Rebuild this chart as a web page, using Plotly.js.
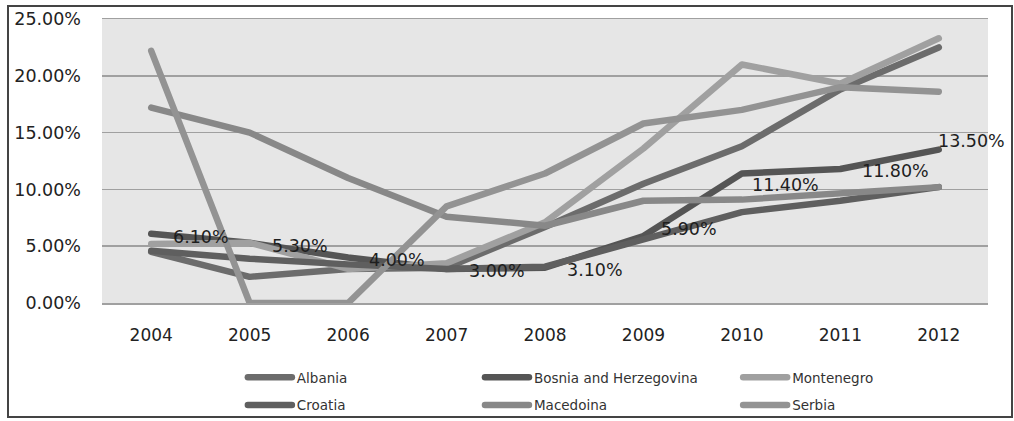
<!DOCTYPE html>
<html>
<head>
<meta charset="utf-8">
<script src="https://cdn.plot.ly/plotly-3.0.1.min.js"></script>
<style>
  html, body { margin: 0; padding: 0; background: #fff; }
  #wrap { position: relative; width: 1014px; height: 421px; }
  #chart { width: 1014px; height: 421px; }
  #frame { position: absolute; left: 7px; top: 5px; width: 1002px; height: 409px;
           border: 2px solid #444; pointer-events: none; }
  .js-line { stroke-linecap: round; stroke-linejoin: round; }
</style>
</head>
<body>
<div id="wrap"><div id="chart"></div><div id="frame"></div></div>
<script>
const years = ['2004','2005','2006','2007','2008','2009','2010','2011','2012'];
const albania    = [4.5, 2.3, 3.0, 3.1, 6.7, 10.5, 13.8, 18.8, 22.5];
const bosnia     = [6.1, 5.3, 4.0, 3.0, 3.1, 5.9, 11.4, 11.8, 13.5];
const montenegro = [5.2, 5.3, 3.0, 3.5, 7.1, 13.6, 21.0, 19.3, 23.3];
const croatia    = [4.6, 3.9, 3.4, 3.0, 3.2, 5.6, 8.0, 9.0, 10.2];
const macedoina  = [17.2, 15.0, 11.0, 7.6, 6.8, 9.0, 9.1, 9.6, 10.2];
const serbia     = [22.2, 0.0, 0.0, 8.5, 11.4, 15.8, 17.0, 19.0, 18.6];
const names  = ['Albania','Bosnia and Herzegovina','Montenegro','Croatia','Macedoina','Serbia'];
const series = [albania, bosnia, montenegro, croatia, macedoina, serbia];
const colors = ['#6c6c6c','#555555','#a0a0a0','#5f5f5f','#888888','#939393'];
const legendIds = ['legend','legend2','legend3','legend','legend2','legend3'];
const bosniaLabels = bosnia.map(v => v.toFixed(2) + '%');
const labelShiftX = [20, 20, 19, 20, 20, 16, 8, 20, -3];
const labelShiftY = [-3, -3, -2, -2, -2, 7, -11, -2, 9];

const traces = series.map((s, i) => ({
  type: 'scatter', mode: 'lines', name: names[i], x: years, y: s,
  legend: legendIds[i], legendgroup: 'g' + i,
  line: { color: colors[i], width: 6.5 }, hoverinfo: 'skip'
}));

const annotations = years.map((yr, i) => ({
  x: i, y: bosnia[i], xref: 'x', yref: 'y', text: bosniaLabels[i],
  showarrow: false, xanchor: 'left', yanchor: 'middle',
  xshift: labelShiftX[i], yshift: labelShiftY[i],
  font: { family: 'DejaVu Sans', size: 17.5, color: '#1e1e1e' }
}));

function legendCol(xpos) {
  return {
    orientation: 'v', x: xpos, xanchor: 'left',
    yref: 'container', y: 0.14, yanchor: 'top',
    itemwidth: 44, tracegroupgap: 7,
    font: { family: 'DejaVu Sans', size: 13.5, color: '#333333' },
    bgcolor: 'rgba(0,0,0,0)', traceorder: 'grouped'
  };
}

const layout = {
  width: 1014, height: 421,
  margin: { l: 102, r: 26, t: 19, b: 118, autoexpand: false },
  paper_bgcolor: '#ffffff', plot_bgcolor: '#e6e6e6',
  showlegend: true,
  legend: legendCol(0.159),
  legend2: legendCol(0.4266),
  legend3: legendCol(0.718),
  xaxis: {
    type: 'category', range: [-0.5, 8.5], showgrid: false, zeroline: false,
    showline: true, mirror: true, linecolor: '#a0a0a0', linewidth: 1.5,
    ticks: '', ticklabelstandoff: 16,
    tickfont: { family: 'DejaVu Sans', size: 17, color: '#222' }
  },
  yaxis: {
    range: [0, 25], tickvals: [0, 5, 10, 15, 20, 25],
    ticktext: ['0.00%','5.00%','10.00%','15.00%','20.00%','25.00%'],
    showgrid: true, gridcolor: '#a0a0a0', gridwidth: 1.5,
    zeroline: false, showline: false, ticks: '', ticklabelstandoff: 20,
    tickfont: { family: 'DejaVu Sans', size: 17.5, color: '#222' }
  },
  annotations: annotations
};

Plotly.newPlot('chart', traces, layout, { staticPlot: true });
</script>
</body>
</html>
